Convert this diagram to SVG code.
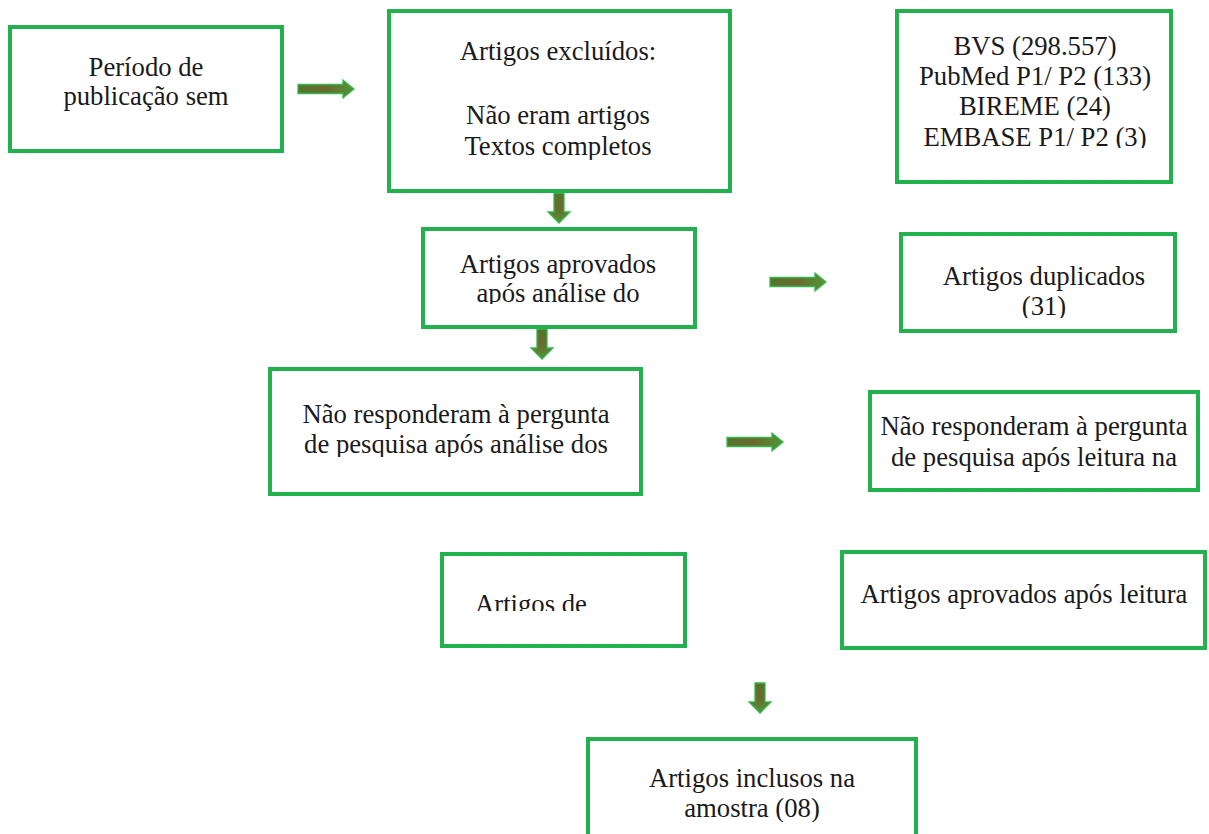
<svg xmlns="http://www.w3.org/2000/svg" width="1209" height="834" viewBox="0 0 1209 834">
<defs>
<style>
.box{fill:#ffffff;stroke:#22b14c;stroke-width:4}
.t{font-family:"Liberation Serif","Times New Roman",serif;font-size:26.7px;fill:#1a1a1a;text-anchor:middle}
.tl{font-family:"Liberation Serif","Times New Roman",serif;font-size:26.7px;fill:#1a1a1a;text-anchor:start}
.ar{stroke:#35b84f;stroke-width:1.3;stroke-linejoin:miter}
</style>
<linearGradient id="gh" x1="0" y1="0" x2="1" y2="0">
<stop offset="0" stop-color="#55742c"/>
<stop offset="0.5" stop-color="#6c6a2e"/>
<stop offset="1" stop-color="#4f9636"/>
</linearGradient>
<linearGradient id="gv" x1="0" y1="0" x2="0" y2="1">
<stop offset="0" stop-color="#55742c"/>
<stop offset="0.5" stop-color="#6c6a2e"/>
<stop offset="1" stop-color="#4f9636"/>
</linearGradient>
<path id="ra" class="ar" fill="url(#gh)" d="M0,-4.5 H45 V-9 L56,0 L45,9 V4.5 H0 Z"/>
<path id="da" class="ar" fill="url(#gv)" d="M-5,0 V19 H-11 L0,30 L11,19 H5 V0 Z"/>
<clipPath id="c3"><rect x="897" y="11" width="274" height="137"/></clipPath>
<clipPath id="c2"><rect x="389" y="11" width="341" height="149"/></clipPath>
<clipPath id="c4"><rect x="423" y="229" width="272" height="75"/></clipPath>
<clipPath id="c5"><rect x="901" y="234" width="274" height="84"/></clipPath>
<clipPath id="c6"><rect x="270" y="369" width="371" height="88"/></clipPath>
<clipPath id="c7"><rect x="870" y="392" width="328" height="80"/></clipPath>
<clipPath id="c8"><rect x="442" y="554" width="243" height="57"/></clipPath>
<clipPath id="c10"><rect x="588" y="739" width="328" height="83"/></clipPath>
</defs>

<g id="connectors">
<use href="#ra" x="298" y="89"/>
<use href="#da" x="559" y="193"/>
<use href="#ra" x="770" y="282"/>
<use href="#da" x="542" y="329"/>
<use href="#ra" x="727" y="442"/>
<use href="#da" x="760" y="683"/>
</g>

<g id="n1">
<rect class="box" x="10" y="27" width="272" height="124"/>
<text class="t" x="146" y="76">Período de</text>
<text class="t" x="146" y="105">publicação sem</text>
</g>

<g id="n2">
<rect class="box" x="389" y="11" width="341" height="180"/>
<g clip-path="url(#c2)">
<text class="t" x="558" y="60">Artigos excluídos:</text>
<text class="t" x="558" y="124">Não eram artigos</text>
<text class="t" x="558" y="155">Textos completos</text>
</g>
</g>

<g id="n3">
<rect class="box" x="897" y="11" width="274" height="171"/>
<g clip-path="url(#c3)">
<text class="t" x="1035" y="55">BVS (298.557)</text>
<text class="t" x="1035" y="85">PubMed P1/ P2 (133)</text>
<text class="t" x="1035" y="115">BIREME (24)</text>
<text class="t" x="1035" y="146">EMBASE P1/ P2 (3)</text>
</g>
</g>

<g id="n4">
<rect class="box" x="423" y="229" width="272" height="98"/>
<g clip-path="url(#c4)">
<text class="t" x="558" y="273">Artigos aprovados</text>
<text class="t" x="558" y="302">após análise do</text>
</g>
</g>

<g id="n5">
<rect class="box" x="901" y="234" width="274" height="97"/>
<g clip-path="url(#c5)">
<text class="t" x="1044" y="285">Artigos duplicados</text>
<text class="t" x="1044" y="315">(31)</text>
</g>
</g>

<g id="n6">
<rect class="box" x="270" y="369" width="371" height="125"/>
<g clip-path="url(#c6)">
<text class="t" x="456" y="423">Não responderam à pergunta</text>
<text class="t" x="456" y="453">de pesquisa após análise dos</text>
</g>
</g>

<g id="n7">
<rect class="box" x="870" y="392" width="328" height="98"/>
<g clip-path="url(#c7)">
<text class="t" x="1034" y="435">Não responderam à pergunta</text>
<text class="t" x="1034" y="466">de pesquisa após leitura na</text>
</g>
</g>

<g id="n8">
<rect class="box" x="442" y="554" width="243" height="92"/>
<g clip-path="url(#c8)">
<text class="tl" x="475" y="613">Artigos de</text>
</g>
</g>

<g id="n9">
<rect class="box" x="842" y="552" width="363" height="96"/>
<text class="t" x="1024" y="603">Artigos aprovados após leitura</text>
</g>

<g id="n10">
<rect class="box" x="588" y="739" width="328" height="100"/>
<g clip-path="url(#c10)">
<text class="t" x="752" y="787">Artigos inclusos na</text>
<text class="t" x="752" y="817">amostra (08)</text>
</g>
</g>
</svg>
